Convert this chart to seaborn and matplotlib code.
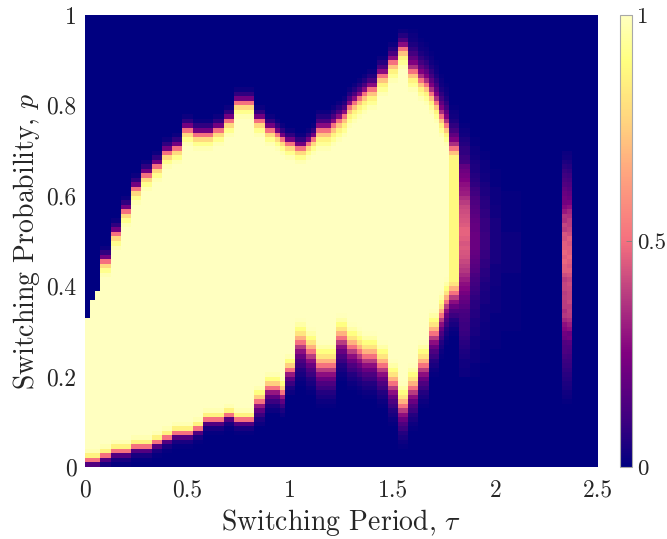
import numpy as np
import matplotlib
matplotlib.use("Agg")
import matplotlib.pyplot as plt
from matplotlib.colors import LinearSegmentedColormap
import seaborn as sns

# Grid: 100 switching periods (0..2.5), 100 probabilities (0..1).
# Row index (p*100) of the half-level cell on the upper edge, for columns 0..72.
upper_edge = [33, 37, 39, 45, 45, 51, 51, 56, 56, 61, 61, 64, 64, 66, 66, 69, 69, 70, 70, 74,
              74, 73, 73, 73, 73, 74, 74, 76, 76, 80, 80, 80, 80, 76, 76, 74, 74, 73, 72, 71,
              71, 70, 70, 71, 72, 74, 74, 74, 75, 76, 77, 79, 80, 81, 82, 83, 83, 86, 86, 89,
              89, 92, 92, 87, 87, 85, 84, 82, 80, 77, 75, 70, 70]
# Row index of the half-level cell on the lower edge, for columns 0..72.
lower_edge = [1, 1, 1, 2, 2, 3, 3, 3, 3, 4, 4, 4, 4, 5, 5, 6, 6, 7, 7, 7,
              7, 8, 8, 10, 10, 10, 10, 11, 11, 10, 10, 10, 10, 14, 14, 17, 17, 17, 16, 21,
              21, 27, 27, 25, 25, 22, 22, 22, 22, 28, 28, 26, 26, 25, 24, 24, 24, 22, 22, 18,
              18, 13, 13, 17, 17, 22, 22, 29, 29, 33, 36, 38, 38]
# Which edge profile each column shows.
upper_kind = [0] * 3 + [1] * 42 + [2] * 18 + [3] * 10
lower_kind = [0] * 33 + [1] * 8 + [2] * 32
# Highest level reached in the two outermost lobe columns.
peak_71_72 = 0.88

# Cell levels walking outward from the half-level cell, and inward from it.
upper_out = [[0.0], [0.5, 0.22, 0.08, 0.02], [0.5, 0.27, 0.13, 0.06, 0.02],
             [0.5, 0.35, 0.25, 0.18, 0.12, 0.08, 0.05, 0.03, 0.02, 0.01]]
upper_in = [[1.0], [0.78, 0.92, 0.98], [0.72, 0.86, 0.93, 0.98], [0.72, 0.86, 0.93, 0.98]]
lower_out = [[0.5, 0.15, 0.04, 0.01], [0.5, 0.3, 0.18, 0.1, 0.05, 0.02],
             [0.5, 0.38, 0.28, 0.2, 0.14, 0.1, 0.06, 0.04, 0.02, 0.01]]
lower_in = [[0.86, 0.98], [0.75, 0.9, 0.98], [0.68, 0.82, 0.9, 0.96, 0.99]]

# Faint fringe right of the main lobe: levels for rows 20..75.
fringe_73_74 = [.02, .02, .03, .03, .04, .05, .06, .07, .08, .09, .1, .1, .11, .12, .13,
                .16, .18, .2, .23, .26, .28, .31, .34, .37, .39, .41, .43, .44, .45, .44,
                .46, .47, .47, .45, .44, .43, .42, .41, .38, .35, .31, .3, .28, .25, .23,
                .21, .18, .11, .1, .08, .08, .06, .05, .03, .02, .01]
fringe_75_76 = [.01, .01, .01, .02, .02, .02, .03, .03, .03, .04, .04, .05, .05, .06, .06,
                .07, .07, .08, .09, .1, .11, .12, .13, .15, .16, .17, .18, .19, .2, .2,
                .2, .2, .19, .19, .18, .17, .16, .15, .14, .13, .11, .1, .08, .07, .06,
                .05, .05, .04, .03, .02, .02, .01, .01, 0, 0, 0]
fringe_77_78 = [0, 0, 0, .01, .01, .01, .01, .01, .02, .02, .02, .02, .03, .03, .03,
                .03, .04, .04, .04, .05, .05, .06, .07, .07, .08, .08, .09, .09, .1, .1,
                .1, .1, .09, .09, .09, .08, .08, .07, .07, .06, .05, .05, .04, .03, .03,
                .02, .02, .02, .01, .01, 0, 0, 0, 0, 0, 0]
fringe_79_80 = [0, 0, 0, 0, 0, 0, .01, .01, .01, .01, .01, .01, .01, .01, .02,
                .02, .02, .02, .02, .02, .03, .03, .03, .03, .03, .04, .04, .04, .04, .04,
                .04, .04, .04, .04, .04, .03, .03, .03, .02, .02, .02, .02, .01, .01, .01,
                .01, 0, 0, 0, 0, 0, 0, 0, 0, 0, 0]
fringe_81_84 = [0, 0, 0, 0, 0, 0, 0, 0, 0, 0, .01, .01, .01, .01, .01,
                .01, .01, .01, .01, .01, .01, .01, .01, .02, .02, .02, .02, .02, .02, .02,
                .02, .02, .01, .01, .01, .01, .01, .01, .01, .01, .01, 0, 0, 0, 0,
                0, 0, 0, 0, 0, 0, 0, 0, 0, 0, 0]

# Isolated streak near tau = 2.35: levels for rows 14..69, two columns.
streak_93 = [.01, .02, .03, .04, .05, .06, .07, .08, .09, .1, .12, .14, .14, .15, .2, .22, .26, .28, .33, .37,
             .35, .38, .38, .39, .38, .4, .4, .38, .42, .46, .46, .48, .46, .48, .46, .46, .43, .44, .38, .4,
             .35, .36, .3, .26, .22, .22, .2, .18, .15, .13, .11, .09, .07, .05, .03, .02]
streak_94 = [.01, .02, .03, .04, .05, .06, .07, .08, .09, .1, .11, .13, .14, .16, .22, .2, .28, .31, .35, .38,
             .39, .38, .41, .4, .4, .41, .42, .4, .43, .46, .44, .46, .48, .46, .46, .44, .46, .42, .4, .38,
             .38, .35, .33, .28, .23, .2, .18, .16, .14, .12, .1, .08, .06, .04, .03, .02]

tick_tau = ["0", "0.5", "1", "1.5", "2", "2.5"]
tick_p = ["0", "0.2", "0.4", "0.6", "0.8", "1"]
tick_c = ["0", "0.5", "1"]

cmap_colors = ["#000080", "#3c0080", "#800080", "#b83c80", "#f5707f",
               "#ffa57f", "#ffd27f", "#ffff80", "#ffffc0"]
cmap_stops = [0, .1, .25, .38, .5, .65, .76, .9, 1]

# Assemble cells by table lookup.
cells = np.zeros((100, 100))
for c, (top, low) in enumerate(zip(upper_edge, lower_edge)):
    cells[low:top + 1, c] = 1.0
    for d, v in enumerate(upper_in[upper_kind[c]]):
        cells[top - 1 - d, c] = v
    for d, v in enumerate(lower_in[lower_kind[c]]):
        cells[low + 1 + d, c] = v
    if upper_kind[c]:
        for d, v in enumerate(upper_out[upper_kind[c]]):
            cells[top + d, c] = v
    else:
        cells[top:, c] = 0
    for d, v in enumerate(lower_out[lower_kind[c]]):
        if low - d >= 0:
            cells[low - d, c] = v
cells[:, 71:73] = np.minimum(cells[:, 71:73], peak_71_72)
for cols, fringe in (((73, 74), fringe_73_74), ((75, 76), fringe_75_76),
                     ((77, 78), fringe_77_78), ((79, 80), fringe_79_80),
                     ((81, 82, 83, 84), fringe_81_84)):
    for c in cols:
        cells[20:20 + len(fringe), c] = fringe
cells[14:14 + len(streak_93), 93] = streak_93
cells[14:14 + len(streak_94), 94] = streak_94

plt.rcParams["font.family"] = ["cmr10"]
plt.rcParams["mathtext.fontset"] = "cm"
plt.rcParams["axes.unicode_minus"] = False
ink = "#262626"
W, H = 667, 539
fig = plt.figure(figsize=(W / 100, H / 100), dpi=100)
ax = fig.add_axes([85 / W, (H - 467) / H, 513 / W, 452 / H])
cax = fig.add_axes([619.5 / W, (H - 467) / H, 12 / W, 452 / H])
cmap = LinearSegmentedColormap.from_list("switch", list(zip(cmap_stops, cmap_colors)))
sns.heatmap(cells, ax=ax, cbar_ax=cax, cmap=cmap, vmin=0, vmax=1,
            xticklabels=False, yticklabels=False, rasterized=True)
ax.invert_yaxis()
ax.set_xticks(np.arange(len(tick_tau)) * 20)
ax.set_xticklabels(tick_tau, rotation=0, fontsize=17, color=ink)
ax.set_yticks(np.arange(len(tick_p)) * 20)
ax.set_yticklabels(tick_p, rotation=0, fontsize=17, color=ink)
ax.tick_params(axis="x", length=0, pad=9)
ax.tick_params(axis="y", length=0, pad=6)
ax.set_xlabel(r"Switching Period, $\tau$", fontsize=20, color=ink, labelpad=4)
ax.set_ylabel(r"Switching Probability, $p$", fontsize=20, color=ink, labelpad=3)

cax.set_yticks([0, 0.5, 1])
cax.set_yticklabels(tick_c, fontsize=16.5, color=ink)
cax.tick_params(direction="in", length=4, width=0.6, color="#808080", pad=4)
cb = ax.collections[0].colorbar
cb.outline.set_visible(True)
cb.outline.set_edgecolor("#a8a8a8")
cb.outline.set_linewidth(0.8)

fig.savefig("out.png", dpi=100)
